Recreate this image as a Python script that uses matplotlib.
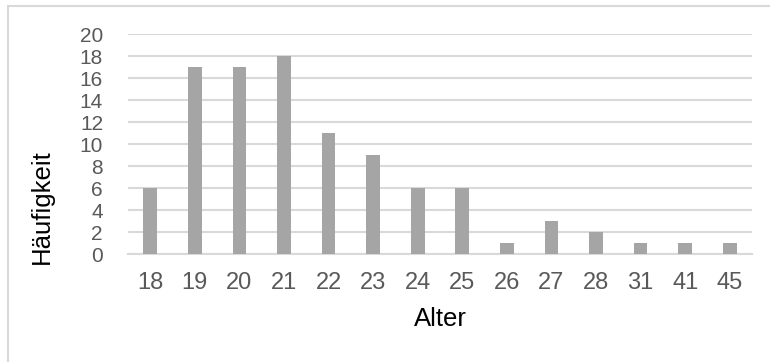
import matplotlib.pyplot as plt
from matplotlib.patches import Rectangle

plt.rcParams['font.family'] = ['Liberation Sans', 'DejaVu Sans']

ages = ['18', '19', '20', '21', '22', '23', '24', '25', '26', '27', '28', '31', '41', '45']
counts = [6, 17, 17, 18, 11, 9, 6, 6, 1, 3, 2, 1, 1, 1]
yticks = list(range(0, 21, 2))

W, H = 770, 362
fig = plt.figure(figsize=(W / 100, H / 100), dpi=100)

# plot area in pixels: x 128..752, y 34..254
ax = fig.add_axes([128 / W, 1 - 254 / H, (752 - 128) / W, (254 - 34) / H])

# light outer frame (only top/left edges visible in the reference)
fig.patches.append(Rectangle((8 / W, -0.05), 1.1, 1 - 6 / H + 0.05,
                             transform=fig.transFigure, fill=False,
                             edgecolor='#d9d9d9', lw=1.5))

x = range(len(ages))
ax.bar(x, counts, width=0.31, color='#a5a5a5', zorder=3)

ax.set_xlim(-0.5, len(ages) - 0.5)
ax.set_ylim(0, 20)
ax.set_yticks(yticks)
ax.set_xticks(list(x))
ax.set_xticklabels(ages)
ax.yaxis.grid(True, color='#d9d9d9', lw=1.5, zorder=0)
for s in ['top', 'right', 'left']:
    ax.spines[s].set_visible(False)
ax.spines['bottom'].set_color('#d9d9d9')
ax.spines['bottom'].set_linewidth(1.5)
ax.tick_params(axis='both', length=0)
ax.tick_params(axis='y', labelsize=15, labelcolor='#595959', pad=18)
ax.tick_params(axis='x', labelsize=17, labelcolor='#595959', pad=13)

ax.set_xlabel('Alter', fontsize=18.5, color='black', labelpad=9)
fig.text(42 / W, 1 - 207 / H, 'Häufigkeit', rotation=90, fontsize=18.5,
         ha='center', va='center', color='black')

fig.savefig('out.png', dpi=100)
